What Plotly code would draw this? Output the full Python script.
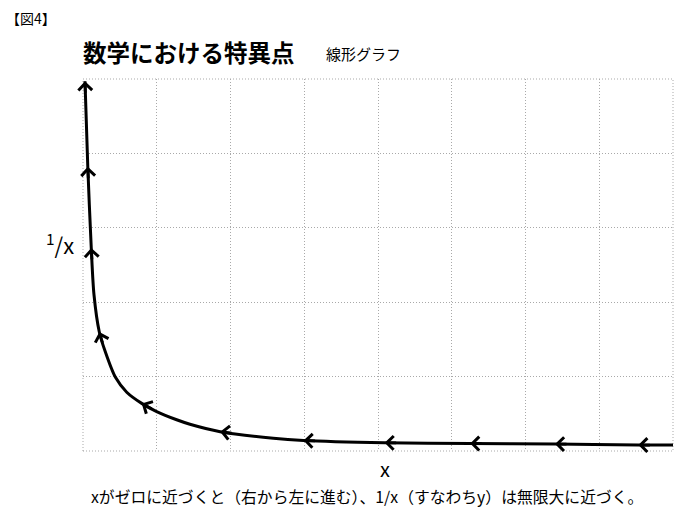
import math
import plotly.graph_objects as go

# Curve values (x in grid units, y = 1/x shape)
curve_x = [0.027, 0.065, 0.112, 0.149, 0.221, 0.300, 0.440, 0.593, 0.796, 0.999, 1.27, 1.45,
           1.86, 2.58, 2.99, 4.09, 5.25, 6.40, 7.53, 8.0]
curve_y = [4.97, 3.82, 2.73, 2.10, 1.60, 1.34, 0.99, 0.79, 0.64, 0.53, 0.42, 0.36,
           0.26, 0.17, 0.14, 0.11, 0.10, 0.094, 0.08, 0.08]
# indices of curve points that carry a direction arrow
arrow_idx = [0, 1, 2, 4, 8, 12, 14, 15, 16, 17, 18]

x_ticks = [0, 1, 2, 3, 4, 5, 6, 7, 8]
y_ticks = [0, 1, 2, 3, 4, 5]

FONT = "Noto Sans CJK JP"
GRID = "#a9a9a9"

W, H = 687, 520
pl, pr, pt, pb = 83, 14, 79, 69
pw, ph = W - pl - pr, H - pt - pb
ux, uy = pw / 8.0, ph / 5.0  # pixels per data unit

fig = go.Figure()
fig.add_trace(go.Scatter(
    x=curve_x, y=curve_y, mode="lines",
    line=dict(color="black", width=3, shape="spline", smoothing=0.8),
    cliponaxis=False, hoverinfo="skip", showlegend=False,
))

annotations = []
for i in arrow_idx:
    hx, hy = curve_x[i], curve_y[i]
    nx, ny = curve_x[i + 1], curve_y[i + 1]
    L = math.hypot((nx - hx) * ux, (ny - hy) * uy)
    f = min(1.0, 13.0 / L)
    annotations.append(dict(
        x=hx, y=hy, ax=hx + f * (nx - hx), ay=hy + f * (ny - hy),
        xref="x", yref="y", axref="x", ayref="y",
        showarrow=True, arrowhead=4, arrowsize=0.95, arrowwidth=2.8,
        arrowcolor="black", text="",
    ))


def px(xp):
    return (xp - pl) / pw


def py(yp):
    return (H - pb - yp) / ph


texts = [
    dict(text="【図4】", x=px(4), y=py(18), xanchor="left", size=14),
    dict(text="<b>数学における特異点</b>", x=px(81), y=py(52), xanchor="left", size=23.5),
    dict(text="線形グラフ", x=px(324), y=py(53), xanchor="left", size=15),
    dict(text="<sup>1</sup>/x", x=px(76), y=py(243), xanchor="right", size=22),
    dict(text="x", x=px(385), y=py(468), xanchor="center", size=20),
    dict(text="xがゼロに近づくと（右から左に進む）、1/x（すなわちy）は無限大に近づく。",
         x=px(367), y=py(496), xanchor="center", size=15.8),
]
for t in texts:
    annotations.append(dict(text=t["text"], x=t["x"], y=t["y"], xref="paper", yref="paper",
                            showarrow=False, xanchor=t["xanchor"], yanchor="middle",
                            font=dict(family=FONT, size=t["size"], color="black")))

fig.update_layout(
    width=W, height=H,
    margin=dict(l=pl, r=pr, t=pt, b=pb),
    paper_bgcolor="white", plot_bgcolor="white",
    showlegend=False,
    xaxis=dict(range=[0, 8], tickvals=x_ticks, showticklabels=False, ticks="",
               showgrid=True, griddash="1px,2px", gridcolor=GRID, gridwidth=1,
               zeroline=False, showline=False, fixedrange=True),
    yaxis=dict(range=[0, 5], tickvals=y_ticks, showticklabels=False, ticks="",
               showgrid=True, griddash="1px,2px", gridcolor=GRID, gridwidth=1,
               zeroline=False, showline=False, fixedrange=True),
    annotations=annotations,
)

fig.add_shape(type="rect", xref="paper", yref="paper", x0=0, y0=0, x1=1, y1=1,
              line=dict(color=GRID, width=1, dash="1px,2px"), layer="below")

fig.write_html("out.html")
